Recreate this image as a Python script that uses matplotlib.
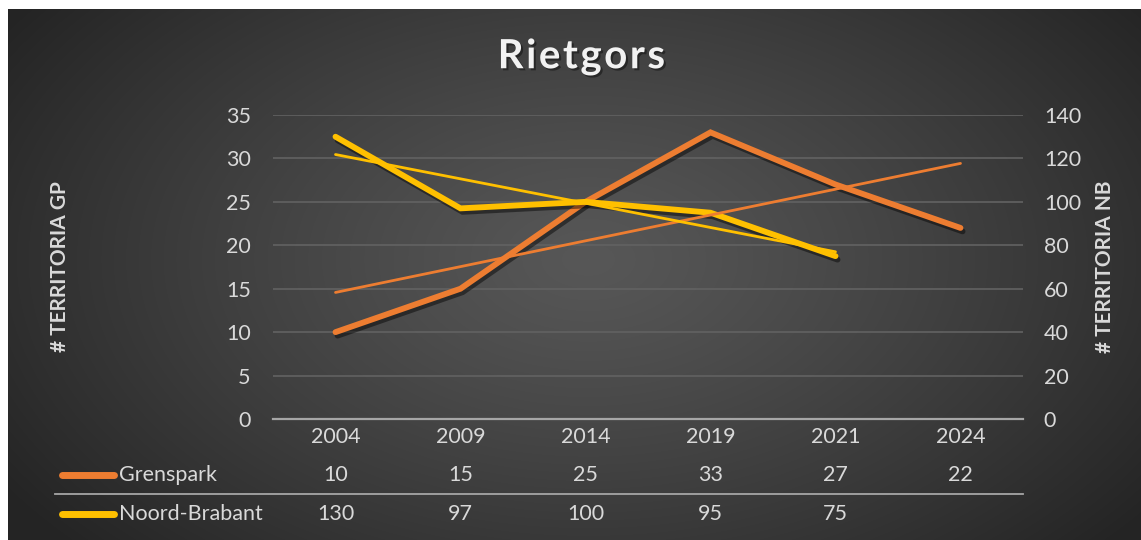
import numpy as np
import matplotlib
matplotlib.use("Agg")
import matplotlib.pyplot as plt
import matplotlib.patheffects as pe
from matplotlib.transforms import blended_transform_factory

plt.rcParams['font.family'] = ['Lato', 'DejaVu Sans']

# ---- data ----
categories = ["2004", "2009", "2014", "2019", "2021", "2024"]
grenspark = [10, 15, 25, 33, 27, 22]
noord_brabant = [130, 97, 100, 95, 75]
series_names = ["Grenspark", "Noord-Brabant"]
left_ticks = [0, 5, 10, 15, 20, 25, 30, 35]
right_ticks = [0, 20, 40, 60, 80, 100, 120, 140]

ORANGE = "#ED7D31"
YELLOW = "#FFC000"
TXT = "#d9d9d9"
FS = 15.5

W, H = 1141, 540
fig = plt.figure(figsize=(W / 100, H / 100), dpi=100)
fig.patch.set_facecolor("white")

# background radial gradient
bg = fig.add_axes([8 / W, 0, 1 - 8 / W, 1 - 9 / H], zorder=-10)
yy, xx = np.mgrid[0:531, 0:1133]
cx, cy = 580, 250
d = np.sqrt(((xx - cx) / 700.0) ** 2 + ((yy - cy) / 430.0) ** 2)
d = np.clip(d, 0, 1)
c0, c1 = 0x57 / 255, 0x24 / 255
img = c0 + (c1 - c0) * d ** 1.2
bg.imshow(np.dstack([img, img, img]), aspect="auto", extent=[0, 1, 0, 1])
bg.axis("off")

left, right, top, bottom = 273, 1023, 115, 419
ax = fig.add_axes([left / W, 1 - bottom / H, (right - left) / W, (bottom - top) / H])
ax.set_facecolor("none")
ax2 = ax.twinx()

x = np.arange(len(categories))
xn = np.arange(len(noord_brabant))

ax.set_xlim(-0.5, len(categories) - 0.5)
ax.set_ylim(0, 35)
ax2.set_ylim(0, 140)
ax.set_yticks(left_ticks)
ax2.set_yticks(right_ticks)
ax.grid(axis="y", color="#626262", lw=1.2)
ax.set_axisbelow(True)

for a in (ax, ax2):
    for s in a.spines.values():
        s.set_visible(False)
ax.spines["bottom"].set_visible(True)
ax.spines["bottom"].set_color("#a6a6a6")
ax.spines["bottom"].set_linewidth(1.6)

ax.tick_params(axis="y", length=0, pad=16, labelsize=FS, labelcolor=TXT)
ax2.tick_params(axis="y", length=0, pad=15, labelsize=FS, labelcolor=TXT)
ax.set_xticks(x)
ax.set_xticklabels(categories)
ax.tick_params(axis="x", length=0, pad=6, labelsize=FS, labelcolor=TXT)

shadow = [pe.SimpleLineShadow(offset=(1.5, -2.5), shadow_color="black", alpha=0.45),
          pe.Normal()]

ax.plot(x, grenspark, color=ORANGE, lw=4.2, solid_capstyle="round",
        solid_joinstyle="miter", path_effects=shadow, zorder=3)
ax2.plot(xn, noord_brabant, color=YELLOW, lw=4.2, solid_capstyle="round",
         solid_joinstyle="miter", path_effects=shadow, zorder=3)

# linear trendlines
pg = np.polyfit(x, grenspark, 1)
pn = np.polyfit(xn, noord_brabant, 1)
ax2.plot(x, np.polyval(pg, x) * 4, color=ORANGE, lw=2.0, solid_capstyle="round", zorder=4)
ax2.plot(xn, np.polyval(pn, xn), color=YELLOW, lw=2.0, solid_capstyle="round", zorder=4)

# axis titles
fig.text(60 / W, 1 - 267 / H, "# TERRITORIA GP", rotation=90, ha="center", va="center",
         fontsize=15, fontweight="bold", color=TXT)
fig.text(1105 / W, 1 - 267 / H, "# TERRITORIA NB", rotation=90, ha="center", va="center",
         fontsize=15, fontweight="bold", color=TXT)

# title
fig.text(580 / W, 1 - 57 / H, "\u200aR\u200ai\u200ae\u200at\u200ag\u200ao\u200ar\u200as", ha="center", va="center",
         fontsize=29, fontweight="bold", color="#f2f2f2",
         path_effects=[pe.withSimplePatchShadow(offset=(1.5, -1.5), shadow_rgbFace="black", alpha=0.4)])

# data table
tr = blended_transform_factory(ax.transData, fig.transFigure)
row_y = [1 - 475 / H, 1 - 514 / H]
rows = [grenspark, noord_brabant]
colors = [ORANGE, YELLOW]
for r, (vals, yv, col, name) in enumerate(zip(rows, row_y, colors, series_names)):
    for i, v in enumerate(vals):
        ax.text(i, yv, str(v), transform=tr, ha="center", va="center",
                fontsize=FS, color=TXT)
    fig.add_artist(plt.Line2D([62 / W, 114 / W], [yv, yv], color=col, lw=5,
                              solid_capstyle="round"))
    fig.text(119 / W, yv, name, ha="left", va="center", fontsize=FS, color=TXT)

fig.add_artist(plt.Line2D([55 / W, right / W], [1 - 494 / H, 1 - 494 / H],
                          color="#a6a6a6", lw=1.3))

fig.savefig("out.png", dpi=100, facecolor=fig.get_facecolor())
